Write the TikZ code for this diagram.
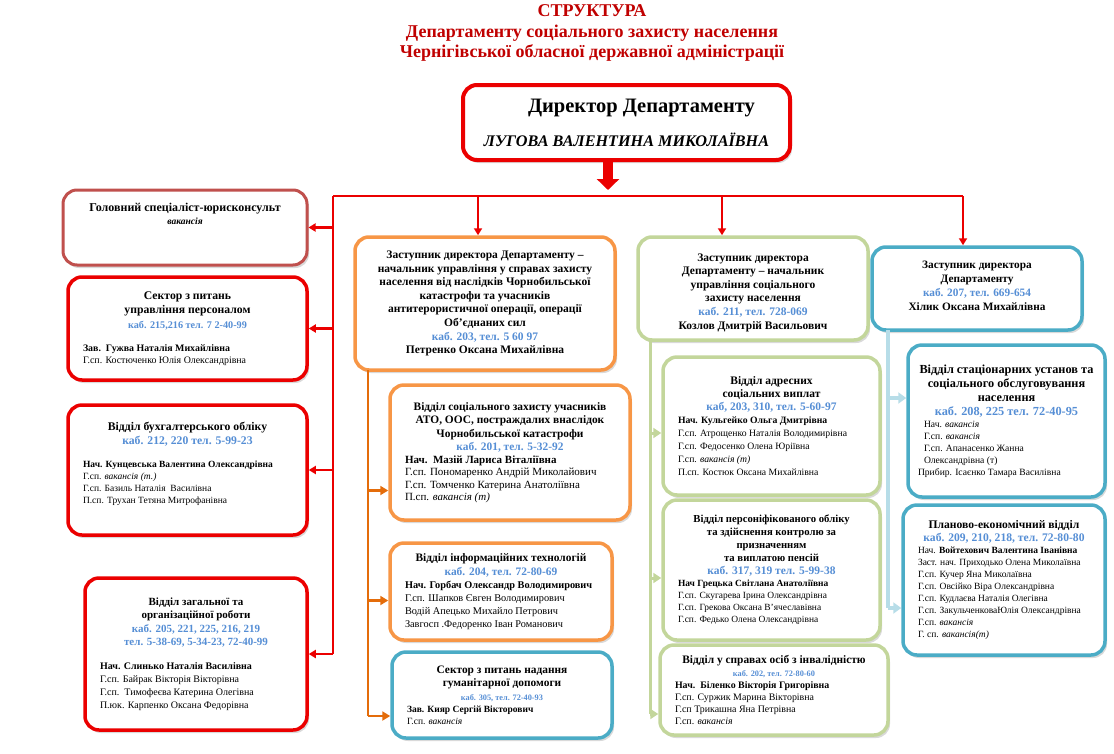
\documentclass[tikz,border=0pt]{standalone}
\usepackage{fontspec}
\setmainfont{Liberation Serif}
\usetikzlibrary{arrows.meta,shadows}
\setlength{\parindent}{0pt}

\definecolor{titlered}{RGB}{192,0,0}
\definecolor{boxred}{RGB}{235,0,0}
\definecolor{legalred}{RGB}{192,80,77}
\definecolor{boxorange}{RGB}{247,150,70}
\definecolor{lineorange}{RGB}{228,108,10}
\definecolor{boxgreen}{RGB}{195,214,155}
\definecolor{boxblue}{RGB}{75,172,198}
\definecolor{lineblue}{RGB}{183,221,232}
\definecolor{kabblue}{RGB}{85,142,213}

% heading of a unit: size, line skip, text -- centred, bold
\newcommand{\hd}[3]{{\centering\fontsize{#1}{#2}\selectfont\bfseries #3\par}}
\newcommand{\kab}[1]{{\color{kabblue}#1}}
\newcommand{\vak}[1]{\textit{#1}}

\tikzset{
  unit/.style={draw, rounded corners=14pt, fill=white, line width=3.5pt,
    inner xsep=15pt, inner ysep=3pt, align=flush left,
    drop shadow={opacity=0.3, shadow xshift=2pt, shadow yshift=-3pt}},
  redunit/.style={unit, draw=boxred},
  orgunit/.style={unit, draw=boxorange},
  grnunit/.style={unit, draw=boxgreen},
  bluunit/.style={unit, draw=boxblue},
  names/.style 2 args={font=\fontsize{#1}{#2}\selectfont},
  redline/.style={draw=boxred, line width=2.5pt},
  redarrow/.style={redline, -{Triangle[length=7pt,width=8pt]}},
  bigarrow/.style={draw=boxred, line width=10pt, -{Triangle[length=11pt,width=22pt]}},
  orgline/.style={draw=lineorange, line width=2.5pt},
  orgarrow/.style={orgline, -{Triangle[length=8pt,width=9pt]}},
  grnline/.style={draw=boxgreen, line width=3pt},
  grnarrow/.style={grnline, -{Triangle[length=8pt,width=10pt]}},
  bluline/.style={draw=lineblue, line width=3.5pt},
  bluarrow/.style={bluline, -{Triangle[length=8pt,width=11pt]}}
}

\begin{document}
\begin{tikzpicture}[x=1pt, y=-1pt]
\useasboundingbox (0,0) rectangle (1114,753);

\node[align=center, text=titlered, font=\fontsize{18}{20.5}\selectfont\bfseries] (title) at (592,33)
  {СТРУКТУРА\\Департаменту соціального захисту населення\\Чернігівської обласної державної адміністрації};

\node[unit, draw=boxred, line width=4pt, minimum width=327pt, minimum height=75pt, align=center,
  font=\bfseries] (dir) at (626.5,122.5)
  {\fontsize{20.5}{22}\selectfont\hspace*{30pt}Директор Департаменту\\[15pt]\fontsize{16.2}{19.4}\selectfont\itshape ЛУГОВА ВАЛЕНТИНА МИКОЛАЇВНА};

% left column
\node[unit, draw=legalred, line width=3pt, inner ysep=0pt, text width=214pt, minimum height=75pt] (legal) at (185,227.5)
  {\hd{12}{13}{Головний спеціаліст-юрисконсульт\\{\fontsize{9.5}{10}\selectfont\itshape вакансія}}\kern28pt};
\node[redunit, names={9.9}{12}, text width=209pt, minimum height=103pt] (pers) at (187.5,328.5)
  {\hd{11.7}{14.5}{Сектор з питань\\управління персоналом\\\kab{\fontsize{10.2}{10}\selectfont каб. 215,216 тел. 7 2-40-99}}\vspace{11pt}%
   \textbf{Зав.\ \ Гужва Наталія Михайлівна}\\Г.сп. Костюченко Юлія Олександрівна};
\node[redunit, names={9.5}{12}, text width=209pt, minimum height=130pt] (acc) at (187.5,470)
  {\hd{11.7}{14.5}{Відділ бухгалтерського обліку\\\kab{каб. 212, 220 тел. 5-99-23}}\vspace{11pt}%
   \textbf{Нач. Кунцевська Валентина Олександрівна}\\Г.сп. \vak{вакансія (т.)}\\Г.сп. Базиль Наталія\ \ Василівна\\П.сп. Трухан Тетяна Митрофанівна\par\kern12pt};
\node[redunit, names={10}{13}, text width=192pt, minimum height=152pt] (gen) at (196,654)
  {\hd{11}{13.5}{Відділ загальної та\\організаційної роботи\\\kab{каб. 205, 221, 225, 216, 219\\тел. 5-38-69, 5-34-23, 72-40-99}}\vspace{11pt}%
   \textbf{Нач. Слинько Наталія Василівна}\\Г.сп. Байрак Вікторія Вікторівна\\Г.сп.\ \ Тимофеєва Катерина Олегівна\\П.юк. Карпенко Оксана Федорівна};

% second column
\node[orgunit, text width=230pt, minimum height=133pt] (dep2) at (485,303.5)
  {\hd{11.5}{13.6}{Заступник директора Департаменту –\\начальник управління у справах захисту\\населення від наслідків Чорнобильської\\катастрофи та учасників\\антитерористичної операції, операції\\Об’єднаних сил\\\kab{каб. 203, тел. 5 60 97}\\Петренко Оксана Михайлівна}};
\node[orgunit, names={11}{12.5}, text width=210pt, minimum height=135pt] (ato) at (510,452.5)
  {\hd{11.4}{13.5}{Відділ соціального захисту учасників\\АТО, ООС, постраждалих внаслідок\\Чорнобильської катастрофи\\\kab{каб. 201, тел. 5-32-92}}%
   \textbf{Нач.\ \ Мазій Лариса Віталіївна}\\Г.сп. Пономаренко Андрій Миколайович\\Г.сп. Томченко Катерина Анатоліївна\\П.сп. \vak{вакансія (т)}};
\node[orgunit, names={10.3}{13}, text width=192pt, minimum height=97pt] (it) at (501,591.5)
  {\hd{11.4}{14}{Відділ інформаційних технологій\\\kab{каб. 204, тел. 72-80-69}}%
   \textbf{Нач. Горбач Олександр Володимирович}\\Г.сп. Шапков Євген Володимирович\\Водій Апецько Михайло Петрович\\Завгосп .Федоренко Іван Романович};
\node[bluunit, names={9.5}{12}, text width=190pt, minimum height=86pt] (hum) at (502,695)
  {\hd{11.4}{13.5}{Сектор з питань надання\\гуманітарної допомоги\\\kab{\fontsize{8.3}{9}\selectfont каб. 305, тел. 72-40-93}}%
   \textbf{Зав. Кияр Сергій Вікторович}\\Г.сп. \vak{вакансія}};

% third column
\node[grnunit, text width=200pt, minimum height=103pt] (dep3) at (753,288.5)
  {\hd{11.5}{13.6}{Заступник директора\\Департаменту – начальник\\управління соціального\\захисту населення\\\kab{каб. 211, тел. 728-069}\\Козлов Дмитрій Васильович}\kern-8pt};
\node[grnunit, names={9.7}{13}, text width=187pt, minimum height=138pt] (addr) at (771.5,426)
  {\hd{11.5}{13}{Відділ адресних\\соціальних виплат\\\kab{каб, 203, 310, тел. 5-60-97}}%
   \textbf{Нач. Кульгейко Ольга Дмитрівна}\\Г.сп. Атрощенко Наталія Володимирівна\\Г.сп. Федосенко Олена Юріївна\\Г.сп. \vak{вакансія (т)}\\П.сп. Костюк Оксана Михайлівна};
\node[grnunit, names={9.45}{12}, text width=187pt, minimum height=140pt] (pfo) at (771.5,570)
  {\hd{10.7}{13}{Відділ персоніфікованого обліку\\та здійснення контролю за\\призначенням\\та виплатою пенсій\\\kab{\fontsize{11.5}{12}\selectfont каб. 317, 319 тел. 5-99-38}}%
   \textbf{Нач Грецька Світлана Анатоліївна}\\Г.сп. Скугарева Ірина Олександрівна\\Г.сп. Грекова Оксана В’ячеславівна\\Г.сп. Федько Олена Олександрівна};
\node[grnunit, names={9.9}{12}, text width=198pt, minimum height=90pt] (dis) at (774,690)
  {\hd{11.4}{12.5}{Відділ у справах осіб з інвалідністю\\\kab{\fontsize{8.3}{9}\selectfont каб. 202, тел. 72-80-60}}%
   \textbf{Нач.\ \ Біленко Вікторія Григорівна}\\Г.сп. Суржик Марина Вікторівна\\Г.сп Трикашна Яна Петрівна\\Г.сп. \vak{вакансія}};

% fourth column
\node[bluunit, text width=180pt, minimum height=83pt] (dep4) at (977,288.5)
  {\hd{11.3}{14}{Заступник директора\\Департаменту\\\kab{каб. 207, тел. 669-654}\\Хілик Оксана Михайлівна}\kern6pt};
\node[bluunit, inner xsep=10pt, names={9.6}{12}, text width=177pt, minimum height=152pt] (stat) at (1006.5,421)
  {\hd{12.3}{14}{Відділ стаціонарних установ та\\соціального обслуговування\\населення\\\kab{каб. 208, 225 тел. 72-40-95}}%
   \leftskip=6pt Нач. \vak{вакансія}\\Г.сп. \vak{вакансія}\\Г.сп. Апанасенко Жанна\\Олександрівна (т)\\Прибир. Ісаєнко Тамара Василівна};
\node[bluunit, names={9.5}{12}, text width=172pt, minimum height=150pt] (plan) at (1004,580)
  {\hd{11.6}{13}{Планово-економічний відділ\\\kab{каб. 209, 210, 218, тел. 72-80-80}}%
   Нач. \textbf{Войтехович Валентина Іванівна}\\Заст. нач. Приходько Олена Миколаївна\\Г.сп. Кучер Яна Миколаївна\\Г.сп. Овсійко Віра Олександрівна\\Г.сп. Кудлаєва Наталія Олегівна\\Г.сп. ЗакульченковаЮлія Олександрівна\\Г.сп. \vak{вакансія}\\Г. сп. \vak{вакансія(т)}};

% red bus from the director
\coordinate (bus) at (608,196);
\coordinate (bus-l) at (333,196);
\coordinate (bus-r) at (963,196);
\coordinate (b2) at (478,196);
\coordinate (b3) at (722,196);
\draw[bigarrow] (dir.south -| bus) -- ([yshift=6pt]bus);
\draw[redline] (bus-l) -- (bus-r);
\draw[redarrow] (b2) -- (b2 |- dep2.north);
\draw[redarrow] (b3) -- (b3 |- dep3.north);
\draw[redarrow] (bus-r) -- (bus-r |- dep4.north);
\draw[redline] (bus-l) -- (bus-l |- gen.east);
\foreach \u in {legal,pers,acc,gen}
  \draw[redarrow] (bus-l |- \u.east) -- (\u.east);

% orange branch
\coordinate (otop) at (368,370);
\coordinate (ato-in) at ([yshift=-38pt]ato.west);
\coordinate (it-in) at ([yshift=-9pt]it.west);
\coordinate (hum-in) at ([yshift=-21pt]hum.west);
\draw[orgline] (otop) -- (otop |- hum-in);
\foreach \u in {ato,it,hum}
  \draw[orgarrow] (otop |- \u-in) -- (\u-in);

% green branch
\coordinate (gtop) at (650,340);
\coordinate (addr-in) at ([yshift=-7pt]addr.west);
\coordinate (pfo-in) at ([yshift=-8pt]pfo.west);
\coordinate (dis-in) at ([yshift=-24pt]dis.west);
\draw[grnline] (gtop) -- (gtop |- dis-in);
\foreach \u in {addr,pfo,dis}
  \draw[grnarrow] (gtop |- \u-in) -- (\u-in);

% blue branch
\coordinate (btop) at (888,330);
\coordinate (stat-in) at ([yshift=23pt]stat.west);
\coordinate (plan-in) at ([yshift=-28pt]plan.west);
\draw[bluline] (btop) -- (btop |- plan-in);
\foreach \u in {stat,plan}
  \draw[bluarrow] (btop |- \u-in) -- (\u-in);
\end{tikzpicture}
\end{document}
